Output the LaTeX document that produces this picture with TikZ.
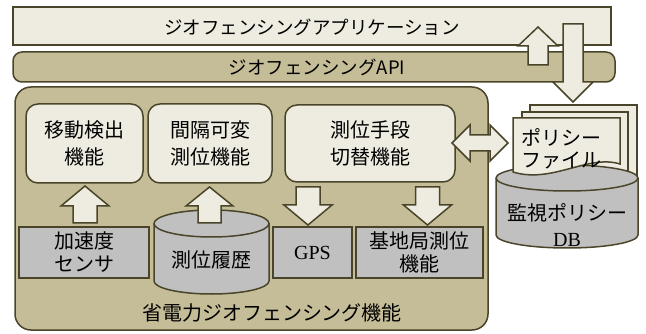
\documentclass[tikz,border=0pt]{standalone}
\usepackage{fontspec}
\setmainfont{Noto Sans CJK JP}
\newfontfamily\serifen{Liberation Serif}
\definecolor{edge}{RGB}{74,69,42}
\definecolor{lightf}{RGB}{238,236,225}
\definecolor{tanf}{RGB}{196,189,151}
\definecolor{grayf}{RGB}{192,192,192}
\begin{document}
\begin{tikzpicture}[x=1pt,y=-1pt,
  base/.style={draw=edge, line width=1.5pt},
  light/.style={base, fill=lightf},
  tan/.style={base, fill=tanf},
  gray/.style={base, fill=grayf},
  blk/.style={light, line join=miter},
  lbl/.style={inner sep=0pt, align=center, font=\fontsize{20}{27}\selectfont},
  funcbox/.style={light, rounded corners=12pt, inner sep=0pt, align=center, font=\fontsize{20}{27}\selectfont},
  devbox/.style={gray, inner sep=0pt, align=center, font=\fontsize{20}{23}\selectfont}
]
\useasboundingbox (0,0) rectangle (646,334);

% top bars
\draw[light] (13,7) rectangle (611,45);
\node[lbl, font=\fontsize{18.5}{20}\selectfont] (app) at (312,27) {ジオフェンシングアプリケーション};
\draw[tan, rounded corners=9pt] (13,52) rectangle (615,82);
\node[lbl, font=\fontsize{18.5}{20}\selectfont] (api) at (317,67) {ジオフェンシングAPI};

% main box
\draw[tan, rounded corners=16pt] (15,87) rectangle (488,330);
\node[lbl] (mainlbl) at (272,313) {省電力ジオフェンシング機能};

% function boxes
\node[funcbox, minimum width=117pt, minimum height=79pt] (move) at (84.5,143.5) {移動検出\\機能};
\node[funcbox, minimum width=124pt, minimum height=79pt] (interval) at (210,143.5) {間隔可変\\測位機能};
\node[funcbox, minimum width=170pt, minimum height=77pt] (switch) at (370,143.5) {測位手段\\切替機能};

% device boxes
\node[devbox, minimum width=130pt, minimum height=51pt] (accel) at (84,252.5) {加速度\\センサ};
\node[devbox, minimum width=79pt, minimum height=51pt, font=\serifen\fontsize{20}{23}\selectfont] (gps) at (312.5,252.5) {GPS};
\node[devbox, minimum width=127pt, minimum height=51pt] (cell) at (419.5,252.5) {基地局測位\\機能};

% history cylinder
\draw[gray] (154,223.5) -- (154,281) arc[start angle=180, end angle=360, x radius=57.5pt, y radius=13pt]
  -- (269,223.5) arc[start angle=0, end angle=180, x radius=57.5pt, y radius=13.5pt] -- cycle;
\draw[base] (154,223.5) arc[start angle=180, end angle=360, x radius=57.5pt, y radius=13.5pt];
\node[lbl] (hist) at (211.5,260) {測位履歴};

% block arrows inside
\draw[blk] (85,186) -- (109,206) -- (97,206) -- (97,223) -- (73,223) -- (73,206) -- (61,206) -- cycle;
\draw[blk] (209.5,187) -- (233,206) -- (221,206) -- (221,223) -- (198,223) -- (198,206) -- (186,206) -- cycle;
\draw[blk] (296,187) -- (320,187) -- (320,205) -- (332,205) -- (308,225) -- (284,205) -- (296,205) -- cycle;
\draw[blk] (415.5,187) -- (439.5,187) -- (439.5,205) -- (451.5,205) -- (427.5,225) -- (403.5,205) -- (415.5,205) -- cycle;

% top arrows
\draw[blk] (538,27) -- (558,46) -- (548,46) -- (548,65) -- (528,65) -- (528,46) -- (518,46) -- cycle;
\draw[blk] (563,24) -- (583,24) -- (583,82) -- (593,82) -- (573,102) -- (553,82) -- (563,82) -- cycle;

% double arrow
\draw[blk] (452,143) -- (470,125) -- (470,135) -- (490,135) -- (490,125) -- (508,143) -- (490,161) -- (490,151) -- (470,151) -- (470,161) -- cycle;

% back pages
\draw[light] (530,105) rectangle (637,182);
\draw[light] (522,112) rectangle (628,182);

% DB cylinder
\draw[gray] (496,178) -- (496,235) arc[start angle=180, end angle=360, x radius=71pt, y radius=13pt]
  -- (638,178) arc[start angle=0, end angle=180, x radius=71pt, y radius=13pt] -- cycle;
\draw[base] (496,178) arc[start angle=180, end angle=360, x radius=71pt, y radius=13pt];
\node[lbl, font=\fontsize{20}{26}\selectfont] (db) at (567,225) {監視ポリシー\\{\serifen DB}};

% front page
\draw[light] (513,118) -- (620,118) -- (620,164) .. controls (588,154) and (552,184) .. (513,172) -- cycle;
\node[lbl, font=\fontsize{20}{22}\selectfont] (policy) at (561,149) {ポリシー\\ファイル};
\end{tikzpicture}
\end{document}
